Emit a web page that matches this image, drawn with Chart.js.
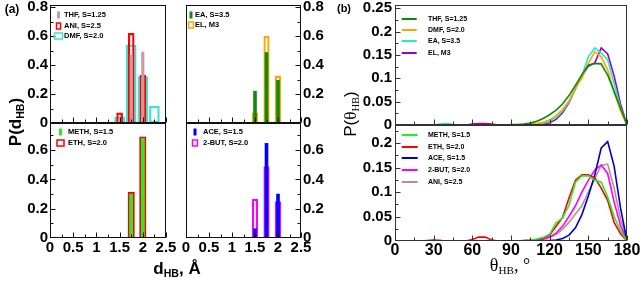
<!DOCTYPE html>
<html>
<head>
<meta charset="utf-8">
<script src="https://cdn.jsdelivr.net/npm/chart.js@4.4.0/dist/chart.umd.min.js"></script>
<style>
  body { margin: 0; background: #fff; }
  #wrap { position: relative; width: 640px; height: 281px; overflow: hidden;
          font-family: "Liberation Sans", Arial, sans-serif; }
  canvas { position: absolute; left: 0; top: 0; }
  .t { position: absolute; white-space: nowrap; color: #000; line-height: 1; }
  .b { font-weight: bold; }
  .c { transform: translate(-50%, -50%); }
  .r { transform: translate(-50%, -50%) rotate(-90deg); }
  .serif { font-family: "Liberation Serif", "Times New Roman", serif; }
  sub { font-size: 62%; vertical-align: -0.3em; line-height: 0; }
</style>
</head>
<body>
<div id="wrap">
  <canvas id="aTL" width="640" height="281"></canvas>
  <canvas id="aTR" width="640" height="281"></canvas>
  <canvas id="aBL" width="640" height="281"></canvas>
  <canvas id="aBR" width="640" height="281"></canvas>
  <canvas id="bT" width="640" height="281"></canvas>
  <canvas id="bB" width="640" height="281"></canvas>

  <div class="t b c" style="left:12px;top:9px;font-size:12px">(a)</div>
  <div class="t b r" style="left:15px;top:122px;font-size:17px">P(d<sub>HB</sub>)</div>
  <div class="t b c" style="left:177px;top:268px;font-size:17px">d<sub>HB</sub>, Å</div>
  <div class="t b c" style="left:344px;top:8px;font-size:11px">(b)</div>
  <div class="t r" style="left:350px;top:114px;font-size:17px">P(<span class="serif">θ<sub>HB</sub></span>)</div>
  <div class="t c serif" style="left:510px;top:265px;font-size:18px">θ<sub>HB</sub>, °</div>
</div>
<script>
const FONT = '"Liberation Sans", Arial, sans-serif';

// ---- panel (a): H-bond distance distributions ----
const D_BINS = [1.5, 1.75, 2.0, 2.25];
const THF_D  = [0.03, 0.47, 0.49, 0];
const ANI_D  = [0.07, 0.62, 0.33, 0];
const DMF_D  = [0.04, 0.54, 0.32, 0.115];
const EA_D   = [0.22, 0.487, 0.295, 0];
const EL_D   = [0.07, 0.60, 0.325, 0];
const METH_D = [0, 0.30, 0.68, 0];
const ETH_D  = [0, 0.313, 0.69, 0];
const ACE_D  = [0.063, 0.646, 0.30, 0];
const BUT_D  = [0.265, 0.487, 0.249, 0];

const A_X_TICKS = [0, 0.5, 1, 1.5, 2, 2.5];
const A_X_MINOR = [0.25, 0.75, 1.25, 1.75, 2.25];
const A_Y_TICKS_TOP = [0, 0.2, 0.4, 0.6, 0.8];
const A_Y_TICKS_BOT = [0, 0.2, 0.4, 0.6];
const A_Y_MINOR = [0.1, 0.3, 0.5, 0.7];

// ---- panel (b): H-bond angle distributions ----
const ANGLES = [0, 5, 10, 15, 20, 25, 30, 35, 40, 45, 50, 55, 60, 65, 70, 75, 80, 85, 90,
                95, 100, 105, 110, 115, 120, 125, 130, 135, 140, 145, 150, 155, 160, 165, 170, 175, 180];
const THF_T  = [0, 0, 0, 0, 0, 0, 0, 0, 0, 0, 0, 0, 0, 0, 0, 0, 0, 0, 0.001,
                0.001, 0.002, 0.004, 0.008, 0.014, 0.022, 0.032, 0.045, 0.063, 0.085, 0.108, 0.128, 0.132, 0.131, 0.107, 0.072, 0.036, 0];
const DMF_T  = [0, 0, 0, 0, 0, 0, 0, 0, 0, 0, 0, 0, 0, 0, 0, 0, 0, 0, 0,
                0, 0.001, 0.002, 0.003, 0.006, 0.011, 0.02, 0.033, 0.052, 0.08, 0.1, 0.132, 0.157, 0.146, 0.118, 0.07, 0.03, 0];
const EA_T   = [0, 0, 0, 0, 0, 0, 0, 0.002, 0.003, 0.001, 0, 0, 0, 0, 0, 0, 0, 0, 0,
                0, 0, 0.001, 0.002, 0.004, 0.008, 0.016, 0.03, 0.05, 0.077, 0.105, 0.146, 0.165, 0.154, 0.14, 0.088, 0.038, 0];
const EL_T   = [0, 0, 0, 0, 0, 0, 0, 0, 0, 0, 0, 0, 0.002, 0.003, 0.003, 0.002, 0, 0, 0,
                0, 0, 0, 0.001, 0.002, 0.005, 0.012, 0.026, 0.048, 0.078, 0.105, 0.126, 0.133, 0.165, 0.152, 0.105, 0.045, 0];
const METH_T = [0, 0, 0, 0, 0, 0, 0, 0, 0, 0, 0, 0, 0, 0, 0, 0, 0, 0, 0,
                0, 0.001, 0.002, 0.004, 0.007, 0.014, 0.037, 0.047, 0.073, 0.12, 0.133, 0.133, 0.124, 0.12, 0.09, 0.05, 0.021, 0];
const ETH_T  = [0, 0, 0, 0, 0, 0.001, 0.002, 0.001, 0, 0, 0, 0, 0.003, 0.008, 0.008, 0.002, 0, 0, 0,
                0, 0.001, 0.002, 0.003, 0.006, 0.012, 0.03, 0.048, 0.088, 0.124, 0.135, 0.135, 0.129, 0.108, 0.083, 0.038, 0.015, 0];
const ACE_T  = [0, 0, 0, 0, 0, 0, 0, 0, 0, 0, 0, 0, 0, 0, 0, 0, 0, 0, 0,
                0, 0, 0, 0, 0.001, 0.001, 0.002, 0.005, 0.012, 0.027, 0.054, 0.092, 0.135, 0.19, 0.203, 0.153, 0.067, 0];
const BUT_T  = [0, 0, 0, 0, 0, 0, 0.001, 0.001, 0, 0, 0, 0, 0, 0, 0, 0, 0, 0, 0,
                0, 0, 0, 0.002, 0.004, 0.008, 0.016, 0.03, 0.05, 0.072, 0.1, 0.124, 0.145, 0.155, 0.138, 0.08, 0.031, 0];
const ANI_T  = [0, 0, 0, 0, 0, 0, 0, 0, 0, 0, 0, 0, 0, 0, 0, 0, 0, 0, 0,
                0, 0, 0, 0.002, 0.004, 0.007, 0.013, 0.024, 0.038, 0.055, 0.072, 0.1, 0.127, 0.155, 0.157, 0.108, 0.045, 0];

const B_X_TICKS = [0, 30, 60, 90, 120, 150, 180];
const B_X_MINOR = [15, 45, 75, 105, 135, 165];
const B_Y_TICKS_TOP = [0, 0.05, 0.1, 0.15, 0.2, 0.25];
const B_Y_TICKS_BOT = [0, 0.05, 0.1, 0.15, 0.2];
const B_Y_MINOR = [0.025, 0.075, 0.125, 0.175, 0.225];

const pts = (xs, ys) => xs.map((x, i) => ({ x, y: ys[i] }));

// tick label strips: labels are clipped to the scale box, so give it room
const YW = 44, XH = 22;

// frame box + inward tick marks
const frameTicks = {
  id: "frameTicks",
  afterDatasetsDraw(chart, args, o) {
    const { ctx, chartArea: a } = chart;
    const xs = chart.scales.x, ys = chart.scales.y;
    const L = Math.round(a.left) + 0.5, R = Math.round(a.right) - 0.5;
    const T = Math.round(a.top) + 0.5, B = Math.round(a.bottom) - 0.5;
    ctx.save();
    ctx.strokeStyle = o.color;
    ctx.lineWidth = 1;
    ctx.strokeRect(L, T, R - L, B - T);
    const seg = (x1, y1, x2, y2) => { ctx.beginPath(); ctx.moveTo(x1, y1); ctx.lineTo(x2, y2); ctx.stroke(); };
    const xt = (vals, len) => vals.forEach(v => {
      const p = Math.round(xs.getPixelForValue(v)) + 0.5;
      seg(p, B, p, B - len);
    });
    const right = o.ySide === "right";
    const yt = (vals, len) => vals.forEach(v => {
      const p = Math.round(ys.getPixelForValue(v)) + 0.5;
      if (p <= T + 1 || p >= B - 1) return;
      if (right) seg(R, p, R - len, p); else seg(L, p, L + len, p);
    });
    xt(o.xMajor, 5); xt(o.xMinor, 3);
    yt(o.yMajor, 5); yt(o.yMinor, 3);
    ctx.restore();
  },
};

// legend drawn inside the plot area
const innerLegend = {
  id: "innerLegend",
  afterDraw(chart, args, o) {
    const { ctx, chartArea: a } = chart;
    ctx.save();
    ctx.font = `bold ${o.size}px ${FONT}`;
    ctx.textBaseline = "middle";
    chart.data.datasets.forEach((ds, i) => {
      const y = Math.round(a.top + o.y + i * o.dy);
      const sx = a.left + o.sx;
      if (chart.config.type === "line") {
        ctx.strokeStyle = ds.borderColor;
        ctx.lineWidth = 2;
        ctx.beginPath(); ctx.moveTo(sx, y); ctx.lineTo(sx + o.len, y); ctx.stroke();
      } else if (ds.backgroundColor === "transparent") {
        const w = ds.legendW;
        ctx.strokeStyle = ds.borderColor;
        ctx.lineWidth = 1.5;
        ctx.strokeRect(sx - w / 2, y - 3, w, 6);
      } else {
        ctx.fillStyle = ds.backgroundColor;
        ctx.fillRect(sx - 1.5, y - 3.5, 3, 7);
      }
      ctx.fillStyle = "#000";
      ctx.fillText(ds.label, a.left + o.tx, y);
    });
    ctx.restore();
  },
};

function scaleOpts(xr, yr) {
  return {
    x: {
      type: "linear", min: xr.min, max: xr.max, offset: false,
      grid: { display: false, drawTicks: false },
      border: { display: false },
      afterBuildTicks: s => { s.ticks = xr.ticks.map(v => ({ value: v })); },
      afterFit: s => { s.height = xr.show ? XH : 0; s.paddingLeft = 0; s.paddingRight = 0; },
      ticks: {
        display: xr.show, autoSkip: false, maxRotation: 0, minRotation: 0,
        padding: xr.pad, color: "#000", callback: v => String(v),
        font: { family: FONT, size: xr.size, weight: "bold" },
      },
    },
    y: {
      position: yr.side, min: 0, max: yr.max,
      grid: { display: false, drawTicks: false },
      border: { display: false },
      afterBuildTicks: s => { s.ticks = yr.ticks.map(v => ({ value: v })); },
      afterFit: s => { s.width = YW; s.paddingTop = 0; s.paddingBottom = 0; },
      ticks: {
        autoSkip: false, padding: yr.pad, color: "#000", callback: v => String(v),
        font: { family: FONT, size: yr.size, weight: "bold" },
      },
    },
  };
}

function makeChart(id, type, datasets, box, xr, yr, frame, legend) {
  const left = yr.side === "left" ? box.l - YW : box.l;
  const right = yr.side === "right" ? 640 - box.r - YW : 640 - box.r;
  const bottom = 281 - box.b - (xr.show ? XH : 0);
  return new Chart(document.getElementById(id), {
    type,
    data: { datasets },
    options: {
      responsive: false, animation: false, events: [], devicePixelRatio: 1,
      layout: { autoPadding: false, padding: { left, top: box.t, right, bottom } },
      scales: scaleOpts(xr, yr),
      plugins: { legend: { display: false }, tooltip: { enabled: false },
                 frameTicks: frame, innerLegend: legend },
    },
    plugins: [frameTicks, innerLegend],
  });
}

function bar(label, ys, fill, edge, thick, bw, legendW) {
  return {
    label, data: pts(D_BINS, ys), grouped: false, barThickness: thick,
    backgroundColor: fill, borderColor: edge, borderWidth: bw,
    borderSkipped: false, legendW,
  };
}

function line(label, ys, color) {
  return {
    label, data: pts(ANGLES, ys), borderColor: color, backgroundColor: color,
    borderWidth: 1.6, pointRadius: 0, tension: 0, fill: false,
  };
}

const aFrame = side => ({ color: "#111", ySide: side, xMajor: A_X_TICKS, xMinor: A_X_MINOR,
                          yMajor: A_Y_TICKS_TOP, yMinor: A_Y_MINOR });
const ax = show => ({ min: 0, max: 2.5, ticks: A_X_TICKS, show, pad: 1, size: 15 });

makeChart("aTL", "bar", [
  bar("THF, S=1.25", THF_D, "#c49ca2", "#c49ca2", 2.5, 0),
  bar("ANI, S=2.5", ANI_D, "transparent", "#ff0000", 6, 1.6, 4),
  bar("DMF, S=2.0", DMF_D, "transparent", "#3fe0d0", 10, 1.6, 8),
], { l: 50, t: 5, r: 166, b: 123 }, ax(false),
  { side: "left", max: 0.815, ticks: A_Y_TICKS_TOP, pad: 2, size: 15 },
  aFrame("left"), { size: 7.5, sx: 8.5, tx: 14, y: 10, dy: 10.5 });

makeChart("aTR", "bar", [
  bar("EA, S=3.5", EA_D, "#128a12", "#128a12", 3, 0),
  bar("EL, M3", EL_D, "transparent", "#ffa500", 5.5, 1.5, 5),
], { l: 186, t: 5, r: 301, b: 123 }, ax(false),
  { side: "right", max: 0.815, ticks: A_Y_TICKS_TOP, pad: 2, size: 15 },
  aFrame("right"), { size: 7.5, sx: 5, tx: 9, y: 10, dy: 10 });

makeChart("aBL", "bar", [
  bar("METH, S=1.5", METH_D, "#22ee22", "#22ee22", 3, 0),
  bar("ETH, S=2.0", ETH_D, "transparent", "#ff0000", 6.5, 1.5, 7),
], { l: 50, t: 123, r: 166, b: 238 }, ax(true),
  { side: "left", max: 0.785, ticks: A_Y_TICKS_BOT, pad: 2, size: 15 },
  aFrame("left"), { size: 7.5, sx: 10.5, tx: 18, y: 8.5, dy: 11.5 });

makeChart("aBR", "bar", [
  bar("ACE, S=1.5", ACE_D, "#0000ff", "#0000ff", 3, 0),
  bar("2-BUT, S=2.0", BUT_D, "transparent", "#ff00ff", 5.5, 1.5, 5),
], { l: 186, t: 123, r: 301, b: 238 }, ax(true),
  { side: "right", max: 0.785, ticks: A_Y_TICKS_BOT, pad: 2, size: 15 },
  aFrame("right"), { size: 7.5, sx: 9, tx: 17, y: 8.5, dy: 11.5 });

const bFrame = { color: "#333", ySide: "left", xMajor: B_X_TICKS, xMinor: B_X_MINOR,
                 yMajor: B_Y_TICKS_TOP, yMinor: B_Y_MINOR };
const bx = show => ({ min: 0, max: 180, ticks: B_X_TICKS, show, pad: 0, size: 16 });

makeChart("bT", "line", [
  line("THF, S=1.25", THF_T, "#0b8a0b"),
  line("DMF, S=2.0", DMF_T, "#ffa500"),
  line("EA, S=3.5", EA_T, "#1eeec4"),
  line("EL, M3", EL_T, "#9a00cc"),
], { l: 395, t: 5, r: 627, b: 125 }, bx(false),
  { side: "left", max: 0.257, ticks: B_Y_TICKS_TOP, pad: 3, size: 15 },
  bFrame, { size: 7, sx: 6.7, len: 15, tx: 33, y: 14, dy: 11.2 });

makeChart("bB", "line", [
  line("METH, S=1.5", METH_T, "#22ee22"),
  line("ETH, S=2.0", ETH_T, "#ff0000"),
  line("ACE, S=1.5", ACE_T, "#0000cc"),
  line("2-BUT, S=2.0", BUT_T, "#ff00ff"),
  line("ANI, S=2.5", ANI_T, "#bc8f8f"),
], { l: 395, t: 125, r: 627, b: 241 }, bx(true),
  { side: "left", max: 0.237, ticks: B_Y_TICKS_BOT, pad: 3, size: 15 },
  bFrame, { size: 7, sx: 6.7, len: 16, tx: 33, y: 10, dy: 11.7 });
</script>
</body>
</html>
